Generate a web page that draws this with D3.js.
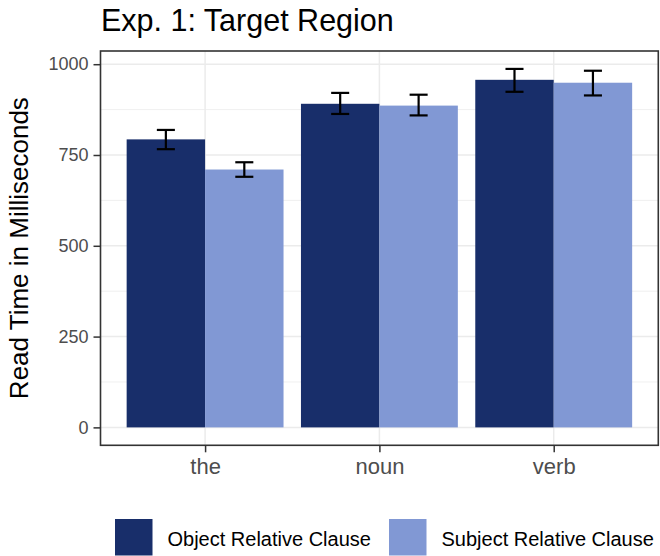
<!DOCTYPE html>
<html>
<head>
<meta charset="utf-8">
<script src="https://cdn.jsdelivr.net/npm/d3@7"></script>
<style>
  html, body { margin: 0; padding: 0; background: #fff; }
  svg { display: block; font-family: "Liberation Sans", Arial, Helvetica, sans-serif; }
</style>
</head>
<body>
<svg id="chart" width="660" height="556"></svg>
<script>
// ---- data ----
const categories = ["the", "noun", "verb"];
const seriesNames = ["Object Relative Clause", "Subject Relative Clause"];
const objectMeans = [793, 891, 957];
const subjectMeans = [710, 886, 949];
const objectLow = [766, 863, 924];
const objectHigh = [819, 921, 987];
const subjectLow = [690, 859, 914];
const subjectHigh = [730, 916, 982];
const yTicks = [0, 250, 500, 750, 1000];
const yMinorTicks = [125, 375, 625, 875];
const titleText = "Exp. 1: Target Region";
const yTitle = "Read Time in Milliseconds";

const colors = ["#182E6A", "#8198D4"];

// build rows
const rows = [];
categories.forEach((c, i) => {
  rows.push({cat: c, series: seriesNames[0], mean: objectMeans[i], lo: objectLow[i], hi: objectHigh[i]});
  rows.push({cat: c, series: seriesNames[1], mean: subjectMeans[i], lo: subjectLow[i], hi: subjectHigh[i]});
});

const svg = d3.select("#chart");
const panel = {left: 100.5, right: 658.3, top: 51, bottom: 445.3};

const yMax = d3.max(rows, d => d.hi);
const y = d3.scaleLinear()
  .domain([-0.05 * yMax, 1.05 * yMax])
  .range([panel.bottom, panel.top]);

const x = d3.scalePoint().domain(categories).range([panel.left, panel.right]).padding(0.6);
const step = x.step();
const xs = d3.scaleBand().domain(seriesNames).range([-0.45 * step, 0.45 * step]).padding(0);
const color = d3.scaleOrdinal().domain(seriesNames).range(colors);

// panel background grid
const grid = svg.append("g");
grid.selectAll("line.minor").data(yMinorTicks).join("line")
  .attr("x1", panel.left).attr("x2", panel.right)
  .attr("y1", d => y(d)).attr("y2", d => y(d))
  .attr("stroke", "#EBEBEB").attr("stroke-width", 0.8);
grid.selectAll("line.majory").data(yTicks).join("line")
  .attr("x1", panel.left).attr("x2", panel.right)
  .attr("y1", d => y(d)).attr("y2", d => y(d))
  .attr("stroke", "#EBEBEB").attr("stroke-width", 1.5);
grid.selectAll("line.majorx").data(categories).join("line")
  .attr("y1", panel.top).attr("y2", panel.bottom)
  .attr("x1", d => x(d)).attr("x2", d => x(d))
  .attr("stroke", "#EBEBEB").attr("stroke-width", 1.5);

// bars
svg.append("g").selectAll("rect").data(rows).join("rect")
  .attr("x", d => x(d.cat) + xs(d.series))
  .attr("width", xs.bandwidth())
  .attr("y", d => y(d.mean))
  .attr("height", d => y(0) - y(d.mean))
  .attr("fill", d => color(d.series));

// error bars
const capHalf = xs.bandwidth() * 0.115;
const eb = svg.append("g").attr("stroke", "#000").attr("stroke-width", 2.2).attr("fill", "none");
rows.forEach(d => {
  const cx = x(d.cat) + xs(d.series) + xs.bandwidth() / 2;
  eb.append("line").attr("x1", cx).attr("x2", cx).attr("y1", y(d.lo)).attr("y2", y(d.hi));
  eb.append("line").attr("x1", cx - capHalf).attr("x2", cx + capHalf).attr("y1", y(d.lo)).attr("y2", y(d.lo));
  eb.append("line").attr("x1", cx - capHalf).attr("x2", cx + capHalf).attr("y1", y(d.hi)).attr("y2", y(d.hi));
});

// panel border
svg.append("rect")
  .attr("x", panel.left).attr("y", panel.top)
  .attr("width", panel.right - panel.left).attr("height", panel.bottom - panel.top)
  .attr("fill", "none").attr("stroke", "#333333").attr("stroke-width", 1.6);

// y axis
const yAxis = svg.append("g").attr("transform", `translate(${panel.left},0)`)
  .call(d3.axisLeft(y).tickValues(yTicks).tickFormat(d3.format("d")).tickSize(7).tickPadding(5));
yAxis.select(".domain").remove();
yAxis.selectAll(".tick line").attr("stroke", "#333333").attr("stroke-width", 1.5);
yAxis.selectAll(".tick text").attr("fill", "#4D4D4D").attr("font-size", 18)
  .attr("font-family", "'Liberation Sans', Arial, sans-serif");

// x axis
const xAxis = svg.append("g").attr("transform", `translate(0,${panel.bottom})`)
  .call(d3.axisBottom(x).tickSize(7).tickPadding(6));
xAxis.select(".domain").remove();
xAxis.selectAll(".tick line").attr("stroke", "#333333").attr("stroke-width", 1.5);
xAxis.selectAll(".tick text").attr("fill", "#4D4D4D").attr("font-size", 22)
  .attr("font-family", "'Liberation Sans', Arial, sans-serif");

// title
svg.append("text").attr("x", 101).attr("y", 31)
  .attr("font-size", 30.5).attr("fill", "#000").text(titleText);

// y title
svg.append("text")
  .attr("transform", `translate(28,${(panel.top + panel.bottom) / 2}) rotate(-90)`)
  .attr("text-anchor", "middle").attr("font-size", 26).attr("fill", "#000")
  .text(yTitle);

// legend
const legendX = [115, 389];
const leg = svg.append("g");
seriesNames.forEach((s, i) => {
  leg.append("rect").attr("x", legendX[i]).attr("y", 519).attr("width", 37.5).attr("height", 36.5)
    .attr("fill", color(s));
  leg.append("text").attr("x", legendX[i] + 52.5).attr("y", 546)
    .attr("font-size", 20).attr("fill", "#000").text(s);
});
</script>
</body>
</html>
